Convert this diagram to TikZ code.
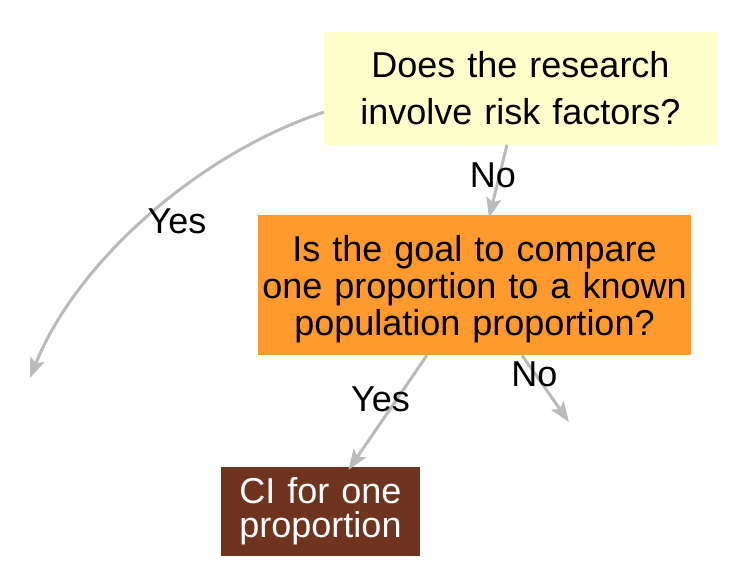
\documentclass[tikz,border=0pt]{standalone}
\usepackage{fontspec}
\setmainfont{Liberation Sans}
\usetikzlibrary{arrows.meta}
\definecolor{qyellow}{HTML}{FFFFCC}
\definecolor{qorange}{HTML}{FF9A2E}
\definecolor{qbrown}{HTML}{6F3420}
\definecolor{qgray}{HTML}{BBBBBB}
\begin{document}
\begin{tikzpicture}[x=1pt,y=-1pt,
  box/.style={inner sep=0pt, align=center, draw=none},
  lbl/.style={inner sep=0pt, font=\fontsize{36}{40}\selectfont},
  conn/.style={draw=qgray, line width=3pt, -{Stealth[length=20pt,width=15pt,inset=4pt]}}]
\useasboundingbox (0,0) rectangle (748,587);
\node[box, fill=qyellow, minimum width=393pt, minimum height=113pt, text width=393pt,
  font=\fontsize{36}{47}\selectfont] (q1) at (520.5,88) {Does the research\\involve risk factors?};
\node[box, fill=qorange, minimum width=433pt, minimum height=140pt, text width=433pt,
  font=\fontsize{36}{37}\selectfont] (q2) at (474.5,285) {\rule{0pt}{34pt}Is the goal to compare\\one proportion to a known\\population proportion?};
\node[box, fill=qbrown, text=white, minimum width=199pt, minimum height=89pt, text width=199pt,
  font=\fontsize{36}{34}\selectfont] (a1) at (320.5,511.5) {CI for one\\proportion};
\coordinate (e1) at (30,378);
\coordinate (e2) at (569,422);
\draw[conn] (q1.187) .. controls (195,155) and (75,265) .. (e1);
\draw[conn] ([xshift=-13.5pt]q1.south) -- ([xshift=14.5pt,yshift=-3pt]q2.north);
\draw[conn] ([xshift=-47.5pt]q2.south) -- ([xshift=28pt,yshift=-3pt]a1.north);
\draw[conn] ([xshift=47.5pt]q2.south) -- (e2);
\node[lbl] (l1) at (177,221.5) {Yes};
\node[lbl] (l2) at (493,175) {No};
\node[lbl] (l3) at (380.5,399.5) {Yes};
\node[lbl] (l4) at (534.5,374.5) {No};
\end{tikzpicture}
\end{document}
